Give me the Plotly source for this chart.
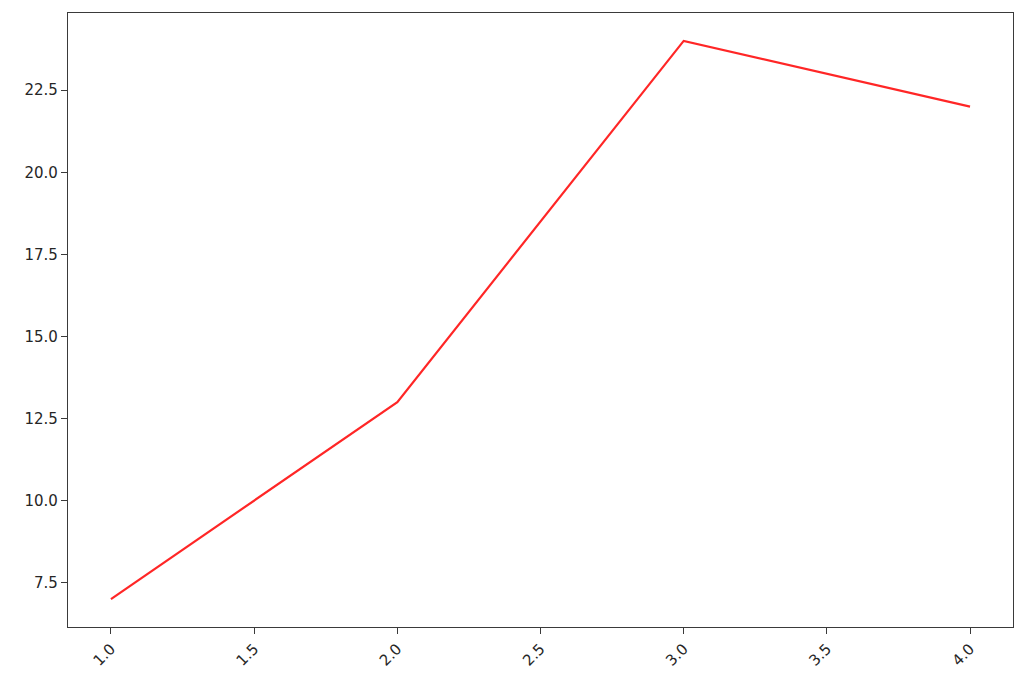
import plotly.graph_objects as go

# ------- data ------- #
x_vals = [1, 2, 3, 4]
y_vals = [7, 13, 24, 22]
x_ticks = [1.0, 1.5, 2.0, 2.5, 3.0, 3.5, 4.0]
y_ticks = [7.5, 10.0, 12.5, 15.0, 17.5, 20.0, 22.5]

fig = go.Figure()
fig.add_trace(go.Scatter(x=x_vals, y=y_vals, mode="lines",
                         line=dict(color="rgba(255,0,0,0.85)", width=2.2)))

axis_style = dict(showgrid=False, zeroline=False, showline=True, linecolor="#3a3a3a",
                  linewidth=1.3, mirror=True, ticks="outside", ticklen=6,
                  tickcolor="#3a3a3a", tickfont=dict(family="DejaVu Sans", size=15, color="#262626"))

fig.update_xaxes(range=[0.85, 4.15], tickvals=x_ticks,
                 ticktext=[f"{t:.1f}" for t in x_ticks], tickangle=-45, **axis_style)
fig.update_yaxes(range=[6.15, 24.85], tickvals=y_ticks,
                 ticktext=[f"{t:.1f}" for t in y_ticks], **axis_style)

# page body adds an 8px offset, so the figure is a bit smaller than the window
fig.update_layout(width=1016, height=681, plot_bgcolor="white", paper_bgcolor="white",
                  margin=dict(l=60, r=11, t=5, b=62), showlegend=False)

fig.write_html("out.html")
